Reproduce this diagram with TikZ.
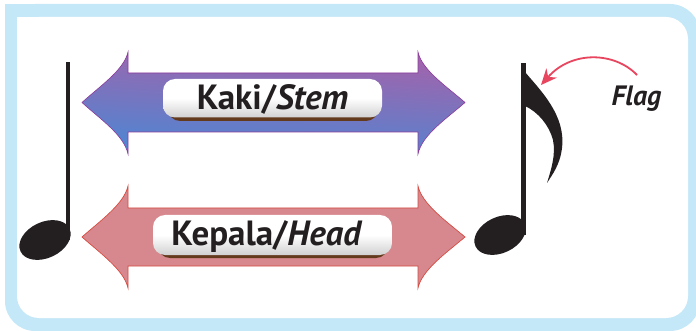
\documentclass[tikz,border=0pt]{standalone}
\usepackage{fontspec}
\setmainfont{PT Sans}
\usetikzlibrary{arrows.meta}
\definecolor{framebl}{RGB}{197,232,248}
\definecolor{arpurple}{RGB}{166,98,170}
\definecolor{arblue}{RGB}{75,135,212}
\definecolor{arline}{RGB}{140,60,155}
\definecolor{pinkfill}{RGB}{214,136,142}
\definecolor{pinkline}{RGB}{215,75,65}
\definecolor{notek}{RGB}{35,31,32}
\definecolor{shadowbr}{RGB}{100,58,28}
\definecolor{flagred}{RGB}{232,70,95}
\tikzset{
  pillshadow/.style={fill=shadowbr, rounded corners=12pt},
  pillbox/.style={top color=white, bottom color=black!18, middle color=white, rounded corners=12pt},
  labeltext/.style={inner sep=0pt, anchor=base, text=notek, font=\bfseries\fontsize{35}{38}\selectfont},
  notefill/.style={fill=notek},
}
\begin{document}
\begin{tikzpicture}[x=1pt,y=-1pt]
\useasboundingbox (0,0) rectangle (696,331);
% frame
\fill[framebl, rounded corners=30pt] (5,4) rectangle (700,331);
\fill[framebl] (5,4) rectangle (60,60);
\fill[white, rounded corners=22pt] (17,17) rectangle (688,318);
\fill[white] (17,17) rectangle (60,60);

% top arrow
\shade[top color=arpurple, bottom color=arblue, shading angle=-4, draw=arline, line width=0.6pt]
 (82,102.5) .. controls (100,86) and (124,70) .. (128,52) -- (128,73) -- (418,73) -- (418,52)
 .. controls (422,70) and (446,86) .. (465,102.5)
 .. controls (446,119) and (422,135) .. (418,154) -- (418,132) -- (128,132) -- (128,154)
 .. controls (124,135) and (100,119) .. (82,102.5) -- cycle;

% bottom arrow
\filldraw[fill=pinkfill, draw=pinkline, line width=0.7pt]
 (82,237) .. controls (100,221) and (124,204) .. (128,186) -- (128,208) -- (418,208) -- (418,186)
 .. controls (422,204) and (446,221) .. (465,237)
 .. controls (446,253) and (422,270) .. (418,288) -- (418,266) -- (128,266) -- (128,288)
 .. controls (124,270) and (100,253) .. (82,237) -- cycle;

% labels
\fill[pillshadow] (168,83) rectangle (378,121);
\shade[pillbox] (163,79) rectangle (382,117.5);
\node[labeltext] (stem) at (272.5,110) {Kaki/\textit{Stem}};

\fill[pillshadow] (158,219) rectangle (388,258);
\shade[pillbox] (153,215) rectangle (392,255);
\node[labeltext] (head) at (267,245) {Kepala/\textit{Head}};

% left note
\fill[notefill] (66,62) rectangle (70,240);
\fill[notefill, rotate around={25:(45,240)}] (45,240) ellipse [x radius=27, y radius=18];

% right note
\fill[notefill] (521,63) rectangle (526,235);
\fill[notefill, rotate around={25:(500,235)}] (500,235) ellipse [x radius=27, y radius=18];
\fill[notefill] (525,72) .. controls (540,90) and (566,115) .. (562,148)
  .. controls (560,165) and (552,175) .. (547,183)
  .. controls (551,170) and (556,155) .. (553,140)
  .. controls (549,125) and (538,112) .. (525,106) -- cycle;

% flag label and arrow
\node[inner sep=0pt, anchor=base, text=notek, font=\bfseries\itshape\fontsize{28}{30}\selectfont] (flag) at (636.5,106) {Flag};
\coordinate (fs) at (637,75);
\coordinate (fe) at (541,85);
\draw[flagred, line width=1.8pt, -{Stealth[length=16pt,width=14pt]}] (fs) .. controls (615,52) and (572,50) .. (fe);
\end{tikzpicture}
\end{document}
